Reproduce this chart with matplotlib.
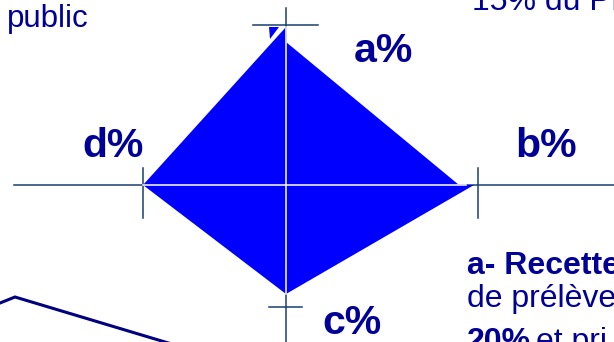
import matplotlib
matplotlib.use("Agg")
from matplotlib import pyplot as plt
from matplotlib.patches import Polygon

plt.rcParams['font.family'] = ['Liberation Sans', 'DejaVu Sans']

W, H = 614, 342
CX, CY = 286, 185  # centre of the cross

NAVY = "#000099"
AXIS = "#17406d"
BLUE = "#0000ff"

# reach of each quarter of the diamond along its two half-axes (pixels)
upper_left = [158, 143]   # (a, d)
upper_right = [143, 173]  # (a, b)
lower_right = [109, 188]  # (c, b)
lower_left = [109, 143]   # (c, d)

# scale marks on each half-axis (a, b, c, d)
tick_pos = [160, 192, 122, 143]
axis_labels = ["a%", "b%", "c%", "d%"]

fig = plt.figure(figsize=(W / 100, H / 100), dpi=100)
ax = fig.add_axes([0, 0, 1, 1])
ax.set_xlim(0, W)
ax.set_ylim(H, 0)
ax.axis("off")

# the cross
ax.plot([14, W], [CY, CY], color=AXIS, lw=1.1, zorder=1)
ax.plot([CX, CX], [8, H], color=AXIS, lw=1.1, zorder=1)

# scale marks
ta, tb, tc, td = tick_pos
ax.plot([CX - 33, CX + 32], [CY - ta, CY - ta], color=AXIS, lw=1.1, zorder=4)
ax.plot([CX + tb, CX + tb], [CY - 17, CY + 33], color=AXIS, lw=1.1, zorder=4)
ax.plot([CX - 17, CX + 16], [CY + tc, CY + tc], color=AXIS, lw=1.1, zorder=4)
ax.plot([CX - td, CX - td], [CY - 17, CY + 33], color=AXIS, lw=1.1, zorder=4)

# four quarters of the diamond
quarters = [
	[(CX, CY), (CX, CY - upper_left[0]), (CX - upper_left[1], CY)],
	[(CX, CY), (CX, CY - upper_right[0]), (CX + upper_right[1], CY)],
	[(CX, CY), (CX + lower_right[1], CY), (CX, CY + lower_right[0])],
	[(CX, CY), (CX, CY + lower_left[0]), (CX - lower_left[1], CY)],
]
for q in quarters:
	ax.add_patch(Polygon(q, closed=True, facecolor=BLUE, edgecolor="none", zorder=2))
# small sliver at the top
ax.add_patch(Polygon([(269, 27), (279, 27), (270, 39)], closed=True,
                     facecolor=BLUE, edgecolor="none", zorder=2))

# white cross inside the diamond
ax.plot([CX - upper_left[1], CX + lower_right[1] - 8], [CY, CY], color="white", lw=1.1, zorder=5)
ax.plot([CX, CX], [CY - upper_left[0], CY + lower_left[0]], color="white", lw=1.1, zorder=5)

# half-axis labels
label_pos = [(354, 62), (515, 157), (322, 334), (82, 157)]
for lab, (x, y) in zip(axis_labels, label_pos):
	ax.text(x, y, lab, fontsize=29.5, fontweight="bold", color=NAVY, ha="left", va="baseline")

# text pieces from the surrounding slide (cut by the crop)
ax.text(7, 27, "public", fontsize=22.5, color=NAVY, ha="left", va="baseline")
ax.text(472, 10, "15% du PI", fontsize=23, color=NAVY, ha="left", va="baseline")
ax.text(467, 274, "a- Recette", fontsize=23, fontweight="bold", color=NAVY, ha="left", va="baseline")
ax.text(467, 307, "de prélève", fontsize=23, color=NAVY, ha="left", va="baseline")
ax.text(467, 350, "20%", fontsize=23, fontweight="bold", color=NAVY, ha="left", va="baseline")
ax.text(536, 350, "et pri", fontsize=23, color=NAVY, ha="left", va="baseline")

# connector line bottom left
ax.plot([0, 15, 175], [303, 297, 345], color="#000080", lw=2.2, solid_joinstyle="miter", zorder=3)

fig.savefig("out.png", dpi=100)
